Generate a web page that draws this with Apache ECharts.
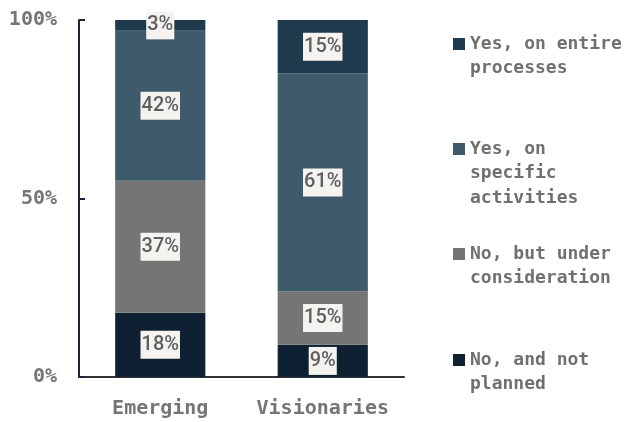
<!DOCTYPE html>
<html>
<head>
<meta charset="utf-8">
<script src="https://cdn.jsdelivr.net/npm/echarts@6/dist/echarts.min.js"></script>
<style>
  html, body { margin: 0; padding: 0; background: #ffffff; }
  #chart { width: 626px; height: 422px; }
</style>
</head>
<body>
<div id="chart"></div>
<script>
// Groups on the x axis
const categories = ['Emerging', 'Visionaries'];

// Share of respondents (%) per answer, bottom to top of each stack
const notPlanned = [18, 9];
const underConsideration = [37, 15];
const specificActivities = [42, 61];
const entireProcesses = [3, 15];

const yTicks = [0, 50, 100];

const seriesNames = [
  'No, and not planned',
  'No, but under consideration',
  'Yes, on specific activities',
  'Yes, on entire processes'
];
// Legend text broken into display lines
const legendLines = {
  'Yes, on entire processes': ['Yes, on entire', 'processes'],
  'Yes, on specific activities': ['Yes, on', 'specific', 'activities'],
  'No, but under consideration': ['No, but under', 'consideration'],
  'No, and not planned': ['No, and not', 'planned']
};
const colors = ['#102033', '#757575', '#3e5a6b', '#1f3a4d'];
const seriesData = [notPlanned, underConsideration, specificActivities, entireProcesses];

const monoFont = '"DejaVu Sans Mono", "Liberation Mono", monospace';
const lineH = 24.5;

const chart = echarts.init(document.getElementById('chart'), null, { renderer: 'canvas' });

const series = seriesNames.map((name, i) => ({
  name: name,
  type: 'bar',
  stack: 'total',
  barWidth: '55.5%',
  data: seriesData[i],
  itemStyle: { color: colors[i] },
  label: {
    show: true,
    position: 'inside',
    formatter: p => p.value + '%',
    fontFamily: 'Roboto, sans-serif',
    fontWeight: 500,
    fontSize: 20,
    color: '#5f5f5f',
    backgroundColor: '#f5f3ef',
    padding: [3, 1, 1, 1],
    lineHeight: 24
  }
}));

// One legend block per answer down the right side. The swatch sits at the
// vertical middle of the text, so blank lines are put in front of the text
// to bring its first line level with the swatch.
const firstLineY = [44, 149, 254, 360];
const legendOrder = [
  'Yes, on entire processes',
  'Yes, on specific activities',
  'No, but under consideration',
  'No, and not planned'
];
const legends = legendOrder.map((name, i) => {
  const lines = legendLines[name];
  const pad = lines.length - 1;
  const text = Array(pad).fill(' ').concat(lines).join('\n');
  return {
    data: [name],
    left: 448,
    top: firstLineY[i] - (pad + 0.5) * lineH - 5,
    orient: 'vertical',
    itemWidth: 12,
    itemHeight: 12,
    icon: 'rect',
    selectedMode: false,
    formatter: () => text,
    textStyle: {
      fontFamily: monoFont,
      fontWeight: 'bold',
      fontSize: 18,
      color: '#707070',
      lineHeight: lineH
    }
  };
});

chart.setOption({
  backgroundColor: '#ffffff',
  animation: false,
  grid: { left: 79, right: 222, top: 20, bottom: 45, containLabel: false },
  legend: legends,
  xAxis: {
    type: 'category',
    data: categories,
    axisLine: { show: true, lineStyle: { color: '#333333', width: 2 } },
    axisTick: { show: false },
    axisLabel: {
      interval: 0,
      fontFamily: monoFont,
      fontWeight: 'bold',
      fontSize: 20,
      color: '#757575',
      margin: 22
    }
  },
  yAxis: {
    type: 'value',
    min: yTicks[0],
    max: yTicks[yTicks.length - 1],
    interval: yTicks[1] - yTicks[0],
    axisLine: { show: true, lineStyle: { color: '#17263a', width: 2 } },
    axisTick: { show: true, inside: true, length: 6, lineStyle: { color: '#17263a', width: 2 } },
    splitLine: { show: false },
    axisLabel: {
      formatter: v => v + '%',
      fontFamily: monoFont,
      fontWeight: 'bold',
      fontSize: 20,
      color: '#757575',
      margin: 22
    }
  },
  series: series
});
</script>
</body>
</html>
